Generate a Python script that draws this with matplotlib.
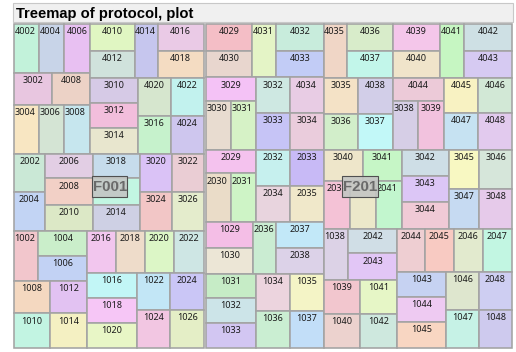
import matplotlib
matplotlib.use("Agg")
import matplotlib.pyplot as plt
from matplotlib.patches import Rectangle

title = "Treemap of protocol, plot"
protocols = ["F001", "F201"]

# ---- data: plot labels, sizes, colours ----
f001_plots = ["4002", "4004", "4006", "3002", "4008", "3004", "3006", "3008",
              "4010", "4012", "4014", "4016", "4018",
              "3010", "3012", "3014", "4020", "3016", "4022", "4024",
              "2002", "2004", "2006", "2008", "2010", "3018", "2012", "2014",
              "3020", "3024", "3022", "3026",
              "1002", "1004", "1006", "1008", "1012", "1010", "1014",
              "2016", "2018", "2020", "2022", "1016", "1018", "1020",
              "1022", "1024", "2024", "1026"]
f001_sizes = [1216, 1207, 1275, 1211, 1221, 1224, 1224, 1273,
              1194, 1194, 1226, 1231, 1231,
              1226, 1188, 1233, 1267, 1254, 1271, 1258,
              1173, 1207, 1180, 1278, 1240, 1144, 1240, 1203,
              1211, 1246, 1217, 1252,
              1214, 1230, 1218, 1170, 1208, 1244, 1284,
              1225, 1225, 1225, 1274, 1258, 1243, 1268,
              1261, 1286, 1244, 1269]
f001_colors = ["#c2f2da", "#c8d4e8", "#e8c0f2", "#e8c6e0", "#ecd2c6", "#f8e6c2", "#d4e4d4", "#c6e6ee",
               "#e0f6c2", "#d0e2dc", "#c6c6ee", "#eacae6", "#f4dcc2",
               "#d6cae6", "#f2bedc", "#e8e6ce", "#d6e6ce", "#c6f2cc", "#c2f2ee", "#cec6ee",
               "#cae8d6", "#c2d4f4", "#e2cee4", "#f2d0c6", "#dce8c6", "#c6dcec", "#c2f6e2", "#ced0e4",
               "#dac2f6", "#f2c6c6", "#eacdd4", "#e4eccc",
               "#f2c6cc", "#caeeca", "#c2d2f4", "#f4d8c0", "#e2c2f2", "#c2f4e2", "#f4f0c2",
               "#f2c6ee", "#eedcca", "#dcf6c6", "#cee6e4", "#c2f6f6", "#f6c6f6", "#e8f6c6",
               "#c2e6f6", "#f2c6e2", "#cac6f6", "#e4eec6"]

f201_plots = ["4029", "4030", "4031", "4032", "4033", "3029", "3030", "3031", "3032", "3033",
              "4034", "3034", "2029", "2030", "2031", "2032", "2034", "2033", "2035",
              "1029", "1030", "2036", "2037", "2038", "1031", "1032", "1033", "1034", "1036",
              "1035", "1037",
              "4035", "4036", "4037", "4039", "4040", "4041", "4042", "4043",
              "3035", "4038", "3036", "3037", "4044", "3038", "3039", "4045", "4046", "4047", "4048",
              "3040", "3041", "2039", "2040", "2041", "3042", "3043", "3044", "3045", "3046",
              "3047", "3048",
              "1038", "2042", "2043", "1039", "1041", "1040", "1042",
              "2044", "2045", "2046", "2047", "1043", "1044", "1045", "1046", "1047", "2048", "1048"]
f201_sizes = [1231, 1231, 1263, 1266, 1266, 1160, 1214, 1229, 1207, 1269,
              1186, 1246, 1168, 1194, 1209, 1224, 1229, 1203, 1208,
              1219, 1219, 1208, 1247, 1247, 1193, 1228, 1260, 1253, 1276,
              1231, 1253,
              1253, 1217, 1217, 1257, 1257, 1279, 1279, 1279,
              1252, 1283, 1224, 1255, 1198, 1229, 1293, 1202, 1197, 1263, 1258,
              1208, 1203, 1278, 1256, 1241, 1223, 1230, 1291, 1188, 1272,
              1214, 1300,
              1265, 1177, 1289, 1229, 1258, 1231, 1260,
              1204, 1215, 1240, 1240, 1240, 1233, 1299, 1263, 1250, 1269, 1256]
f201_colors = ["#f4bec6", "#e8d6ce", "#e4f4c6", "#c8ecdc", "#c2ccf6", "#f4c2f6", "#e8dcd0", "#d6f2c6",
               "#cee8e2", "#c6c4f6", "#e8cce4", "#eaccdc", "#f4c2ee", "#eadcc8", "#cef4c6",
               "#c6f0ee", "#e8d4de", "#c8baf6", "#f0e8ca",
               "#f4bee6", "#ece6d6", "#caecd2", "#c2e8f8", "#dcd2e8", "#c6ecc6", "#cce4e8",
               "#d2c6f2", "#ecd4de", "#caeed2", "#f4f4c6", "#c2def8",
               "#f0d6c6", "#d8ecca", "#c2f6ea", "#f4c6ea", "#f0e4ca", "#c6f6c2", "#cee0e4", "#d6caf2",
               "#f4e2c6", "#d2cee8", "#d2eeca", "#c2f8f8", "#eccad8", "#d6cee6", "#f2c2de",
               "#f8f2c2", "#d2e8d6", "#c6e2f2", "#e2caee",
               "#eee6ca", "#c6f6c6", "#f4c2d6", "#ece8ca", "#c2f6ce", "#cedee6", "#dcc6f6",
               "#f0cad6", "#f8f8c2", "#d6e6da", "#c6daf2", "#e6caea",
               "#dcd2e6", "#d0dee6", "#e2c6f6", "#f2c6ce", "#e6f6c6", "#ecd2ce", "#cee8de",
               "#eeced2", "#f8cac2", "#e2eace", "#c2f6e2", "#c6d2f2", "#eecaf2", "#f8d6c2",
               "#dee6ce", "#c6f2e6", "#cecef2", "#cecaee"]

# ---- hierarchy of the treemap (h: side by side, v: stacked) ----
f001_tree = ("v", [
    ("h", [("v", [("h", ["4002", "4004", "4006"]), ("h", ["3002", "4008"]),
                  ("h", ["3004", "3006", "3008"])]),
           ("v", [("h", [("v", ["4010", "4012"]), "4014", ("v", ["4016", "4018"])]),
                  ("h", [("v", ["3010", "3012", "3014"]), ("v", ["4020", "3016"]),
                         ("v", ["4022", "4024"])])])]),
    ("h", [("v", ["2002", "2004"]), ("v", ["2006", "2008", "2010"]),
           ("v", ["3018", "2012", "2014"]), ("v", ["3020", "3024"]), ("v", ["3022", "3026"])]),
    ("h", [("v", [("h", ["1002", ("v", ["1004", "1006"])]), ("h", ["1008", "1012"]),
                  ("h", ["1010", "1014"])]),
           ("v", [("h", ["2016", "2018", "2020", "2022"]),
                  ("h", [("v", ["1016", "1018", "1020"]), ("v", ["1022", "1024"]),
                         ("v", ["2024", "1026"])])])]),
])

f201_tree = ("h", [
    ("v", [
        ("h", [("v", ["4029", "4030"]), "4031", ("v", ["4032", "4033"])]),
        ("h", [("v", ["3029", ("h", ["3030", "3031"])]), ("v", ["3032", "3033"]),
               ("v", ["4034", "3034"])]),
        ("h", [("v", ["2029", ("h", ["2030", "2031"])]), ("v", ["2032", "2034"]),
               ("v", ["2033", "2035"])]),
        ("h", [("v", ["1029", "1030"]), "2036", ("v", ["2037", "2038"])]),
        ("h", [("v", ["1031", "1032", "1033"]), ("v", ["1034", "1036"]),
               ("v", ["1035", "1037"])]),
    ]),
    ("v", [
        ("h", ["4035", ("v", ["4036", "4037"]), ("v", ["4039", "4040"]), "4041",
               ("v", ["4042", "4043"])]),
        ("h", [("v", [("h", ["3035", "4038"]), ("h", ["3036", "3037"])]),
               ("v", ["4044", ("h", ["3038", "3039"])]),
               ("v", [("h", ["4045", "4046"]), ("h", ["4047", "4048"])])]),
        ("h", [("v", [("h", ["3040", "3041"]), ("h", ["2039", "2040", "2041"])]),
               ("v", ["3042", "3043", "3044"]),
               ("v", [("h", ["3045", "3046"]), ("h", ["3047", "3048"])])]),
        ("h", [("v", [("h", ["1038", ("v", ["2042", "2043"])]),
                      ("h", [("v", ["1039", "1040"]), ("v", ["1041", "1042"])])]),
               ("v", [("h", ["2044", "2045", "2046", "2047"]),
                      ("h", [("v", ["1043", "1044", "1045"]), ("v", ["1046", "1047"]),
                             ("v", ["2048", "1048"])])])]),
    ]),
])

sizes = {"F001": dict(zip(f001_plots, f001_sizes)), "F201": dict(zip(f201_plots, f201_sizes))}
colors = {"F001": dict(zip(f001_plots, f001_colors)), "F201": dict(zip(f201_plots, f201_colors))}
trees = {"F001": f001_tree, "F201": f201_tree}


def total(node, sz):
    if isinstance(node, str):
        return sz[node]
    return sum(total(k, sz) for k in node[1])


def layout(node, x, y, w, h, sz, out):
    if isinstance(node, str):
        out[node] = (x, y, w, h)
        return
    orient, kids = node
    tots = [total(k, sz) for k in kids]
    T = sum(tots)
    pos = 0.0
    for k, t in zip(kids, tots):
        if orient == "h":
            cw = w * t / T
            layout(k, x + pos, y, cw, h, sz, out)
            pos += cw
        else:
            ch = h * t / T
            layout(k, x, y + pos, w, ch, sz, out)
            pos += ch


W, H = 516, 352
fig = plt.figure(figsize=(W / 100, H / 100), dpi=100)
ax = fig.add_axes([0, 0, 1, 1])
ax.set_xlim(0, W)
ax.set_ylim(H, 0)
ax.axis("off")

# plot region
X0, X1, Y0, Y1 = 14.0, 512.0, 24.2, 348.2
GAP = 2.3

# title bar
ax.add_patch(Rectangle((X0 - 0.7, 3.3), X1 - X0 + 1.3, 19.0, facecolor="#f0f0f0",
                       edgecolor="#c8c8c8", linewidth=0.8, zorder=1))
ax.text(X0 + 1.8, 17.6, title, fontsize=10.6, fontweight="bold", family="Liberation Sans",
        color="#000000", va="baseline", ha="left", zorder=5)

ptot = [total(trees[p], sizes[p]) for p in protocols]
Tall = sum(ptot)
xcur = X0
edge = "#a3a3a3"
for i, p in enumerate(protocols):
    pw = (X1 - X0) * ptot[i] / Tall
    left = xcur + (GAP / 2 if i > 0 else 0)
    right = xcur + pw - (GAP / 2 if i < len(protocols) - 1 else 0)
    xcur += pw
    rects = {}
    layout(trees[p], left, Y0, right - left, Y1 - Y0, sizes[p], rects)
    for lab, (x, y, w, h) in rects.items():
        ax.add_patch(Rectangle((x, y), w, h, facecolor=colors[p][lab], edgecolor=edge,
                               linewidth=1.15, zorder=2))
        if w < 26:
            tx, ha = x + 0.6, "left"
        else:
            tx, ha = x + w / 2, "center"
        ax.text(tx, y + 10.3, lab, fontsize=6.5, family="Noto Sans", color="#1a1a1a",
                ha=ha, va="baseline", zorder=3)
    # protocol label box
    cx, cy = (left + right) / 2, (Y0 + Y1) / 2
    bx, by = cx - 17.0, cy - 10.2
    ax.add_patch(Rectangle((bx, by), 35.5, 20.5, facecolor="#c4c6c4", alpha=0.9,
                           edgecolor="none", zorder=6))
    ax.add_patch(Rectangle((bx, by), 35.5, 20.5, facecolor="none",
                           edgecolor="#505050", linewidth=0.8, zorder=7))
    ax.text(cx + 0.8, cy + 0.8, p, fontsize=10.8, fontweight="bold", family="Liberation Sans",
            color="#6a6a6a", ha="center", va="center", zorder=8)

fig.savefig("out.png", dpi=100)
